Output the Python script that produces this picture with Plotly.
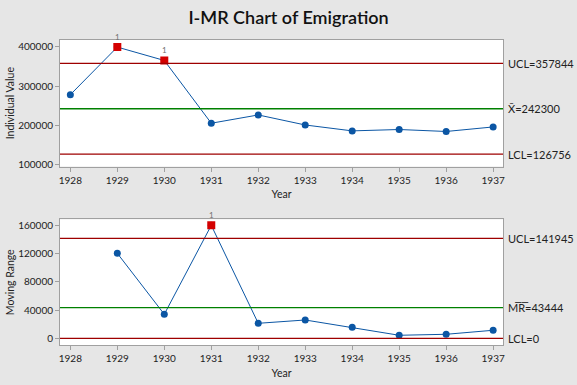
import plotly.graph_objects as go

years = [1928, 1929, 1930, 1931, 1932, 1933, 1934, 1935, 1936, 1937]
individual = [278000, 399000, 365000, 205500, 226500, 201000, 186000, 189500, 184500, 196000]
mr_years = [1929, 1930, 1931, 1932, 1933, 1934, 1935, 1936, 1937]
moving_range = [120700, 34100, 160400, 21300, 26000, 15600, 4300, 5700, 11400]

i_limits = {"UCL": 357844, "X": 242300, "LCL": 126756}
mr_limits = {"UCL": 141945, "MR": 43444, "LCL": 0}

i_flags = [1929, 1930]
mr_flags = [1931]

BLUE = "#0b56a4"
RED = "#d40000"
DARKRED = "#9e0000"
GREEN = "#008000"
FONT = "Lato"
TXT = "#222222"

fig = go.Figure()

def add_series(xs, ys, flags, xa, ya):
    fig.add_trace(go.Scatter(x=xs, y=ys, mode="lines+markers", xaxis=xa, yaxis=ya,
                             line=dict(color=BLUE, width=1),
                             marker=dict(color=BLUE, size=7, symbol="circle"),
                             showlegend=False, hoverinfo="x+y"))
    fx = [x for x in xs if x in flags]
    fy = [y for x, y in zip(xs, ys) if x in flags]
    fig.add_trace(go.Scatter(x=fx, y=fy, mode="markers", xaxis=xa, yaxis=ya,
                             marker=dict(color=RED, size=8, symbol="square"),
                             showlegend=False, hoverinfo="x+y"))
    for x, y in zip(fx, fy):
        fig.add_annotation(x=x, y=y, xref=xa, yref=ya, text="1", showarrow=False,
                           yshift=10, font=dict(size=8, color="#707070", family=FONT))

add_series(years, individual, i_flags, "x", "y")
add_series(mr_years, moving_range, mr_flags, "x2", "y2")

def add_limits(limits, labels, xa, ya):
    colors = [DARKRED, GREEN, DARKRED]
    for (k, v), lab, c in zip(limits.items(), labels, colors):
        fig.add_shape(type="line", xref=f"{xa} domain", yref=ya, x0=0, x1=1, y0=v, y1=v,
                      line=dict(color=c, width=1.3))
        fig.add_annotation(xref=f"{xa} domain", yref=ya, x=1, y=v, xshift=3,
                           xanchor="left", text=f"{lab}={v}", showarrow=False,
                           font=dict(size=11, color=TXT, family=FONT))

add_limits(i_limits, ["UCL", "X\u0304", "LCL"], "x", "y")
add_limits(mr_limits, ["UCL", "M\u0305R\u0305", "LCL"], "x2", "y2")

# y-axis titles placed beside each panel
for text, ya in [("Individual Value", "y"), ("Moving Range", "y2")]:
    fig.add_annotation(xref="x domain", yref=f"{ya} domain", x=0, y=0.5, xshift=-50,
                       text=text, textangle=-90, showarrow=False, xanchor="center",
                       yanchor="middle", font=dict(size=10.5, family=FONT, color=TXT))

axis_common = dict(showline=True, linecolor="#a0a0a0", linewidth=1, mirror=True,
                   ticks="outside", ticklen=4, tickcolor="#a0a0a0", showgrid=False,
                   zeroline=False, automargin=False, tickformat="d",
                   tickfont=dict(size=10, color=TXT, family=FONT))

fig.update_layout(
    width=577, height=385,
    margin=dict(l=60, r=74, t=40, b=40),
    paper_bgcolor="#e6e6e6", plot_bgcolor="white",
    title=dict(text="I-MR Chart of Emigration", x=0.5, xanchor="center", y=0.955,
               yanchor="middle", automargin=False,
               font=dict(size=18, color="#111111", family=FONT, weight=600)),
    xaxis=dict(domain=[0, 1], anchor="y", range=[1927.78, 1937.21], tickvals=years,
               title=dict(text="Year", standoff=6, font=dict(size=10.5, family=FONT, color=TXT)),
               **axis_common),
    yaxis=dict(domain=[0.585, 1], anchor="x", range=[95300, 417000],
               tickvals=[100000, 200000, 300000, 400000], **axis_common),
    xaxis2=dict(domain=[0, 1], anchor="y2", range=[1927.78, 1937.21], tickvals=years,
                title=dict(text="Year", standoff=6, font=dict(size=10.5, family=FONT, color=TXT)),
                **axis_common),
    yaxis2=dict(domain=[0, 0.412], anchor="x2", range=[-9500, 168900],
                tickvals=[0, 40000, 80000, 120000, 160000], **axis_common),
)

fig.write_html("out.html", config={"displayModeBar": False},
               post_script="document.body.style.margin='0';document.body.style.overflow='hidden';")
